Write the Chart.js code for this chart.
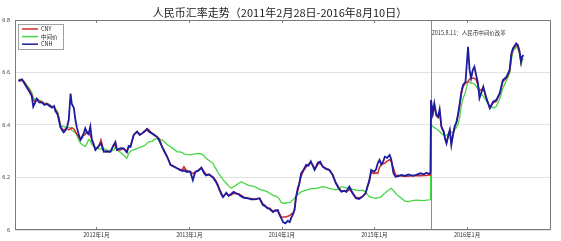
<!DOCTYPE html>
<html>
<head>
<meta charset="utf-8">
<script src="https://cdn.jsdelivr.net/npm/chart.js@4/dist/chart.umd.min.js"></script>
<style>
html,body{margin:0;padding:0;background:#fff;}
#c{display:block;}
</style>
</head>
<body>
<canvas id="c" width="561" height="241"></canvas>
<script>
const titleText = '人民币汇率走势（2011年2月28日-2016年8月10日）';
const seriesNames = ['CNY', '中间价', 'CNH'];
const annotationDate = '2015-08-11';
const annotationText = '2015.8.11：人民币中间价改革';
const xTickDates = ['2012-01-01', '2013-01-01', '2014-01-01', '2015-01-01', '2016-01-01'];
const xTickLabels = ['2012年1月', '2013年1月', '2014年1月', '2015年1月', '2016年1月'];
const yTickLabels = ['6', '6.2', '6.4', '6.6', '6.8'];
const xRange = ['2011-02-14', '2016-11-27'];

const dates = [
'2011-02-28','2011-03-07','2011-03-14','2011-03-21','2011-04-01','2011-04-11','2011-04-21','2011-04-27','2011-05-04','2011-05-11',
'2011-05-20','2011-06-01','2011-06-10','2011-06-20','2011-06-30','2011-07-10','2011-07-18','2011-07-23','2011-08-01','2011-08-06',
'2011-08-12','2011-08-20','2011-08-25','2011-09-01','2011-09-08','2011-09-14','2011-09-21','2011-09-26','2011-10-04','2011-10-10',
'2011-10-16','2011-10-23','2011-10-30','2011-11-07','2011-11-14','2011-11-18','2011-11-25','2011-12-01','2011-12-08','2011-12-14',
'2011-12-20','2011-12-28','2012-01-10','2012-01-19','2012-01-30','2012-02-10','2012-02-25','2012-03-09','2012-03-16','2012-03-22',
'2012-04-05','2012-04-17','2012-04-30','2012-05-07','2012-05-14','2012-05-27','2012-06-09','2012-06-20','2012-06-29','2012-07-10',
'2012-07-18','2012-07-25','2012-08-07','2012-08-17','2012-08-27','2012-09-05','2012-09-16','2012-09-26','2012-10-06','2012-10-19',
'2012-10-30','2012-11-14','2012-11-25','2012-12-05','2012-12-11','2012-12-20','2013-01-05','2013-01-15','2013-01-25','2013-02-05',
'2013-02-18','2013-03-01','2013-03-08','2013-03-20','2013-04-04','2013-04-15','2013-04-24','2013-05-01','2013-05-08','2013-05-14',
'2013-05-27','2013-06-05','2013-06-16','2013-06-25','2013-07-05','2013-07-15','2013-07-25','2013-08-05','2013-08-20','2013-09-01',
'2013-09-16','2013-10-05','2013-10-18','2013-10-25','2013-11-05','2013-11-14','2013-11-27','2013-12-06','2013-12-16','2013-12-24',
'2013-12-30','2014-01-06','2014-01-15','2014-01-24','2014-02-01','2014-02-06','2014-02-14','2014-02-20','2014-02-26','2014-03-05',
'2014-03-11','2014-03-18','2014-03-27','2014-04-07','2014-04-16','2014-04-25','2014-05-05','2014-05-10','2014-05-23','2014-06-01',
'2014-06-11','2014-06-25','2014-07-07','2014-07-20','2014-08-02','2014-08-15','2014-08-24','2014-09-05','2014-09-12','2014-09-24',
'2014-10-08','2014-10-20','2014-11-01','2014-11-15','2014-11-27','2014-12-05','2014-12-12','2014-12-19','2014-12-30','2015-01-07',
'2015-01-14','2015-01-21','2015-01-28','2015-02-04','2015-02-11','2015-02-20','2015-03-02','2015-03-08','2015-03-17','2015-03-25',
'2015-04-05','2015-04-17','2015-05-01','2015-05-15','2015-06-01','2015-06-15','2015-07-01','2015-07-15','2015-07-25','2015-08-05',
'2015-08-10','2015-08-12','2015-08-19','2015-08-25','2015-09-02','2015-09-09','2015-09-15','2015-09-22','2015-10-01','2015-10-06',
'2015-10-12','2015-10-19','2015-10-25','2015-10-31','2015-11-07','2015-11-13','2015-11-20','2015-11-26','2015-12-03','2015-12-10',
'2015-12-16','2015-12-26','2016-01-05','2016-01-11','2016-01-17','2016-01-24','2016-01-30','2016-02-06','2016-02-13','2016-02-19',
'2016-03-05','2016-03-17','2016-03-31','2016-04-13','2016-04-25','2016-05-09','2016-05-21','2016-06-05','2016-06-17','2016-06-24',
'2016-06-30','2016-07-13','2016-07-19','2016-07-25','2016-08-01','2016-08-05','2016-08-10'
];

const cny = [
6.572,6.568,6.570,6.565,6.548,6.535,6.515,6.495,6.490,6.498,
6.492,6.488,6.480,6.482,6.476,6.468,6.470,6.458,6.445,6.425,
6.395,6.385,6.380,6.385,6.385,6.382,6.385,6.390,6.385,6.375,
6.365,6.355,6.345,6.360,6.362,6.365,6.375,6.370,6.360,6.345,
6.330,6.305,6.318,6.343,6.300,6.298,6.298,6.324,6.320,6.305,
6.305,6.311,6.300,6.315,6.317,6.362,6.375,6.365,6.368,6.375,
6.385,6.382,6.368,6.360,6.355,6.348,6.317,6.295,6.279,6.248,
6.245,6.235,6.228,6.232,6.241,6.228,6.222,6.215,6.220,6.228,
6.235,6.222,6.212,6.210,6.203,6.190,6.171,6.155,6.140,6.127,
6.140,6.132,6.133,6.140,6.138,6.138,6.132,6.125,6.121,6.120,
6.117,6.121,6.100,6.095,6.085,6.083,6.072,6.076,6.070,6.060,
6.048,6.050,6.050,6.052,6.055,6.060,6.065,6.080,6.125,6.150,
6.178,6.205,6.225,6.240,6.250,6.258,6.245,6.230,6.250,6.255,
6.242,6.235,6.229,6.212,6.180,6.160,6.148,6.148,6.145,6.155,
6.140,6.125,6.122,6.128,6.140,6.165,6.185,6.220,6.215,6.218,
6.215,6.240,6.248,6.252,6.255,6.262,6.268,6.262,6.235,6.210,
6.208,6.206,6.205,6.205,6.208,6.207,6.207,6.208,6.208,6.210,
6.210,6.470,6.440,6.470,6.435,6.428,6.450,6.392,6.372,6.348,
6.332,6.358,6.378,6.330,6.362,6.390,6.408,6.435,6.475,6.520,
6.545,6.560,6.565,6.575,6.578,6.578,6.578,6.572,6.552,6.530,
6.540,6.505,6.465,6.485,6.490,6.518,6.565,6.580,6.605,6.665,
6.688,6.705,6.700,6.682,6.640,6.660,6.665
];

const mid = [
6.575,6.572,6.571,6.568,6.553,6.540,6.525,6.505,6.498,6.500,
6.495,6.490,6.482,6.483,6.478,6.472,6.470,6.462,6.450,6.430,
6.400,6.395,6.395,6.392,6.390,6.392,6.388,6.380,6.375,6.370,
6.360,6.345,6.330,6.325,6.320,6.318,6.330,6.345,6.340,6.325,
6.320,6.315,6.310,6.308,6.310,6.305,6.300,6.305,6.315,6.305,
6.295,6.286,6.273,6.290,6.300,6.305,6.310,6.315,6.318,6.322,
6.330,6.336,6.338,6.345,6.349,6.345,6.343,6.335,6.325,6.317,
6.310,6.298,6.298,6.295,6.290,6.288,6.286,6.288,6.290,6.292,
6.290,6.282,6.273,6.265,6.254,6.235,6.220,6.210,6.200,6.192,
6.178,6.168,6.159,6.165,6.171,6.178,6.184,6.178,6.171,6.168,
6.165,6.155,6.152,6.150,6.145,6.140,6.132,6.130,6.125,6.115,
6.105,6.102,6.102,6.104,6.104,6.108,6.115,6.121,6.128,6.135,
6.140,6.145,6.148,6.152,6.155,6.158,6.158,6.158,6.160,6.162,
6.165,6.162,6.159,6.156,6.152,6.158,6.165,6.162,6.160,6.159,
6.155,6.152,6.150,6.152,6.145,6.135,6.127,6.124,6.122,6.121,
6.122,6.124,6.127,6.135,6.140,6.148,6.155,6.159,6.150,6.140,
6.130,6.121,6.110,6.108,6.112,6.114,6.113,6.112,6.114,6.115,
6.116,6.400,6.395,6.390,6.385,6.381,6.375,6.368,6.362,6.360,
6.362,6.365,6.368,6.372,6.375,6.381,6.390,6.400,6.430,6.476,
6.500,6.527,6.565,6.562,6.560,6.559,6.555,6.548,6.536,6.525,
6.510,6.492,6.472,6.465,6.470,6.500,6.540,6.571,6.597,6.650,
6.680,6.698,6.690,6.675,6.629,6.645,6.654
];

const cnh = [
6.566,6.572,6.574,6.562,6.544,6.528,6.510,6.470,6.484,6.500,
6.486,6.485,6.476,6.480,6.472,6.466,6.472,6.454,6.440,6.420,
6.392,6.378,6.372,6.380,6.395,6.420,6.520,6.480,6.465,6.420,
6.390,6.365,6.343,6.355,6.375,6.387,6.370,6.365,6.394,6.343,
6.330,6.305,6.320,6.330,6.298,6.300,6.298,6.324,6.335,6.305,
6.312,6.311,6.296,6.320,6.317,6.362,6.375,6.362,6.368,6.377,
6.385,6.375,6.368,6.362,6.355,6.340,6.317,6.298,6.279,6.248,
6.242,6.235,6.230,6.225,6.228,6.222,6.222,6.190,6.222,6.225,
6.238,6.215,6.208,6.212,6.200,6.185,6.168,6.150,6.135,6.125,
6.142,6.130,6.138,6.145,6.140,6.135,6.128,6.122,6.121,6.117,
6.117,6.121,6.095,6.092,6.083,6.080,6.068,6.074,6.076,6.055,
6.044,6.030,6.025,6.035,6.030,6.044,6.060,6.076,6.127,6.160,
6.178,6.216,6.229,6.248,6.245,6.262,6.240,6.229,6.256,6.260,
6.241,6.232,6.229,6.210,6.178,6.155,6.146,6.150,6.146,6.165,
6.138,6.121,6.118,6.127,6.140,6.168,6.190,6.229,6.222,6.230,
6.254,6.267,6.250,6.260,6.279,6.275,6.286,6.270,6.216,6.203,
6.205,6.210,6.206,6.212,6.206,6.210,6.216,6.212,6.218,6.213,
6.220,6.495,6.445,6.483,6.440,6.432,6.460,6.394,6.375,6.349,
6.330,6.360,6.381,6.324,6.365,6.394,6.410,6.438,6.480,6.527,
6.552,6.565,6.698,6.610,6.578,6.610,6.622,6.590,6.559,6.502,
6.546,6.502,6.464,6.489,6.495,6.521,6.571,6.584,6.610,6.673,
6.692,6.711,6.705,6.686,6.641,6.660,6.667
];

function ts(s) {
  const p = s.split('-').map(Number);
  return Date.UTC(p[0], p[1] - 1, p[2]);
}
function pts(vals) {
  return dates.map((d, i) => ({ x: ts(d), y: vals[i] }));
}

const colors = ['#d42a2a', '#45d645', '#1c1ca0'];
const widths = [1.5, 1.3, 1.8];
const seriesValues = [cny, mid, cnh];
const drawOrder = [1, 2, 0];

const CJK = '"Noto Sans CJK SC", "Liberation Sans", sans-serif';
const LAT = '"Liberation Sans", Arial, sans-serif';

const decor = {
  id: 'decor',
  beforeDatasetsDraw(chart) {
    const { ctx, chartArea: a, scales } = chart;
    const xv = Math.round(scales.x.getPixelForValue(ts(annotationDate))) + 0.5;
    ctx.save();
    ctx.strokeStyle = '#8c8c8c';
    ctx.lineWidth = 1;
    ctx.beginPath();
    ctx.moveTo(xv, a.top);
    ctx.lineTo(xv, a.bottom);
    ctx.stroke();
    ctx.restore();
  },
  afterDraw(chart) {
    const { ctx } = chart;
    ctx.save();
    ctx.fillStyle = '#222';
    ctx.font = '11px ' + CJK;
    ctx.textAlign = 'center';
    ctx.textBaseline = 'middle';
    ctx.fillText(titleText, 280, 13);
    ctx.restore();
  },
  afterDatasetsDraw(chart) {
    const { ctx, chartArea: a, scales } = chart;
    ctx.save();
    // frame
    ctx.strokeStyle = '#7a7a7a';
    ctx.lineWidth = 1;
    ctx.strokeRect(Math.round(a.left) + 0.5, Math.round(a.top) + 0.5,
                   Math.round(a.right - a.left) - 1, Math.round(a.bottom - a.top) - 1);
    // x tick marks top & bottom
    ctx.beginPath();
    xTickDates.forEach(d => {
      const px = Math.round(scales.x.getPixelForValue(ts(d))) + 0.5;
      ctx.moveTo(px, a.top); ctx.lineTo(px, a.top + 3);
      ctx.moveTo(px, a.bottom); ctx.lineTo(px, a.bottom - 3);
    });
    ctx.stroke();
    // annotation text
    const xv = scales.x.getPixelForValue(ts(annotationDate));
    ctx.fillStyle = '#333';
    ctx.font = '5.5px ' + CJK;
    ctx.textBaseline = 'middle';
    ctx.textAlign = 'left';
    ctx.fillText(annotationText, xv + 1, 33);
    // legend box
    const lx = 18.5, ly = 24.5, lw = 45, lh = 25;
    ctx.fillStyle = '#fff';
    ctx.fillRect(lx, ly, lw, lh);
    ctx.strokeStyle = '#a0a0a0';
    ctx.strokeRect(lx, ly, lw, lh);
    chart.data.datasets.forEach((ds, i) => {
      const yy = 29 + i * 7.6;
      ctx.strokeStyle = ds.borderColor;
      ctx.lineWidth = 1.5;
      ctx.beginPath();
      ctx.moveTo(22, yy); ctx.lineTo(38, yy);
      ctx.stroke();
      ctx.fillStyle = '#222';
      ctx.font = '5.5px ' + CJK;
      ctx.fillText(ds.label, 41, yy);
    });
    ctx.restore();
  }
};

new Chart(document.getElementById('c'), {
  type: 'line',
  data: {
    datasets: seriesNames.map((name, i) => ({
      label: name,
      data: pts(seriesValues[i]),
      borderColor: colors[i],
      backgroundColor: colors[i],
      borderWidth: widths[i],
      pointRadius: 0,
      tension: 0,
      fill: false,
      order: drawOrder[i]
    }))
  },
  options: {
    responsive: false,
    animation: false,
    devicePixelRatio: 1,
    layout: { padding: { left: 0, right: 10, top: 20, bottom: 0 } },
    plugins: {
      legend: { display: false },
      tooltip: { enabled: false },
      title: { display: false }
    },
    scales: {
      x: {
        type: 'linear',
        min: ts(xRange[0]),
        max: ts(xRange[1]),
        grid: { display: false, drawTicks: false },
        border: { display: false },
        afterFit(s) { s.height = 11; },
        afterBuildTicks(s) { s.ticks = xTickDates.map(d => ({ value: ts(d) })); },
        ticks: {
          autoSkip: false,
          maxRotation: 0,
          padding: 2,
          color: '#333',
          font: { family: CJK, size: 5.5 },
          callback(v) {
            const i = xTickDates.findIndex(d => ts(d) === v);
            return i >= 0 ? xTickLabels[i] : '';
          }
        }
      },
      y: {
        min: 6,
        max: 6.8,
        grid: { color: '#e2e2e2', drawTicks: false, lineWidth: 1 },
        border: { display: false },
        afterFit(s) { s.width = 15; },
        ticks: {
          stepSize: 0.2,
          autoSkip: false,
          padding: 5,
          color: '#444',
          font: { family: LAT, size: 5.5 },
          callback(v) {
            const i = Math.round((v - 6) / 0.2);
            return yTickLabels[i] !== undefined ? yTickLabels[i] : '';
          }
        }
      }
    }
  },
  plugins: [decor]
});
</script>
</body>
</html>
